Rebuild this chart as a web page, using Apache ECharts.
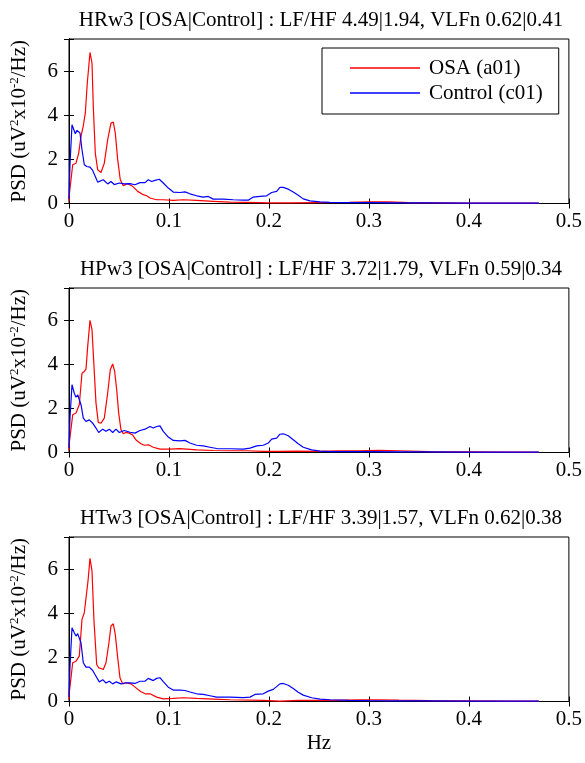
<!DOCTYPE html>
<html><head><meta charset="utf-8">
<script src="https://cdn.jsdelivr.net/npm/echarts@6/dist/echarts.min.js"></script>
<style>html,body{margin:0;padding:0;background:#fff}#c{width:585px;height:763px}</style>
</head><body><div id="c"></div>
<script>
var titles = [
  "HRw3 [OSA|Control] : LF/HF 4.49|1.94, VLFn 0.62|0.41",
  "HPw3 [OSA|Control] : LF/HF 3.72|1.79, VLFn 0.59|0.34",
  "HTw3 [OSA|Control] : LF/HF 3.39|1.57, VLFn 0.62|0.38"
];
var seriesNames = ["OSA (a01)", "Control (c01)"];
var xTicks = [0, 0.1, 0.2, 0.3, 0.4, 0.5];
var yTicks = [0, 2, 4, 6];

var osaF1 = [0,0.0003,0.0037,0.007,0.0097,0.012,0.0143,0.0163,0.0183,0.021,0.023,0.0243,0.0263,0.0287,0.032,0.0353,0.0387,0.042,0.0443,0.0463,0.0487,0.0513,0.0543,0.0587,0.0637,0.0687,0.0743,0.0777,0.081,0.0877,0.0943,0.1043,0.1143,0.1277,0.1443,0.161,0.1777,0.2,0.22,0.25,0.28,0.3,0.32,0.34,0.37,0.4,0.44,0.47];
var osaP1 = [0.1,0.4,1.76,1.83,2.29,3.05,3.53,4.1,5.47,6.86,6.38,4.4,2.29,1.53,1.41,1.83,2.9,3.65,3.7,3.2,1.99,1.08,0.81,0.9,0.78,0.55,0.4,0.35,0.25,0.17,0.17,0.14,0.17,0.14,0.1,0.06,0.05,0.03,0.03,0.04,0.05,0.07,0.07,0.04,0.03,0.02,0.02,0.02];
var ctlF1 = [0,0.001,0.003,0.0043,0.0063,0.008,0.0097,0.011,0.013,0.0153,0.0177,0.021,0.0237,0.0263,0.0287,0.0303,0.0343,0.0387,0.042,0.0453,0.0503,0.0553,0.061,0.066,0.071,0.076,0.0793,0.0827,0.086,0.0903,0.0943,0.0993,0.1043,0.111,0.116,0.121,0.1277,0.1343,0.1393,0.1443,0.1543,0.1643,0.1743,0.1793,0.1843,0.191,0.1977,0.2027,0.2077,0.211,0.2143,0.2193,0.2243,0.2293,0.2343,0.241,0.251,0.261,0.28,0.3,0.33,0.36,0.4,0.44,0.47];
var ctlP1 = [0.2,1.8,3.58,3.42,3.17,3.32,3.38,3.2,2.44,1.76,1.68,1.65,1.5,1.23,0.97,0.89,1.08,0.89,1.0,0.86,0.93,0.89,0.9,0.85,0.95,0.95,1.08,1.0,1.05,1.1,0.93,0.7,0.52,0.5,0.53,0.44,0.35,0.29,0.32,0.2,0.2,0.17,0.15,0.15,0.29,0.32,0.35,0.5,0.55,0.73,0.73,0.65,0.52,0.37,0.21,0.12,0.07,0.05,0.04,0.04,0.03,0.03,0.02,0.02,0.02];

var osaF2 = [0,0.0003,0.0037,0.007,0.0103,0.013,0.0153,0.017,0.0187,0.021,0.023,0.025,0.027,0.0293,0.032,0.0353,0.0387,0.0413,0.0437,0.0457,0.0477,0.0497,0.052,0.0543,0.057,0.0603,0.0637,0.067,0.072,0.0753,0.0793,0.0843,0.091,0.101,0.111,0.1277,0.1443,0.161,0.1777,0.1943,0.211,0.2277,0.2477,0.27,0.29,0.31,0.33,0.36,0.4,0.44,0.47];
var osaP2 = [0.1,0.43,1.71,1.79,2.17,3.6,3.68,3.79,4.82,6.0,5.58,3.91,2.24,1.37,1.33,1.56,2.7,3.76,4.02,3.68,2.85,1.79,1.03,0.85,0.91,0.88,0.79,0.57,0.4,0.33,0.35,0.24,0.15,0.15,0.18,0.12,0.09,0.08,0.08,0.05,0.05,0.06,0.05,0.07,0.08,0.1,0.08,0.04,0.03,0.02,0.02];
var ctlF2 = [0,0.001,0.003,0.0053,0.007,0.0087,0.0103,0.012,0.0143,0.017,0.0203,0.0237,0.027,0.0297,0.0337,0.037,0.0403,0.0437,0.047,0.0503,0.0553,0.061,0.066,0.071,0.076,0.081,0.0843,0.0877,0.091,0.0943,0.0993,0.1043,0.111,0.116,0.121,0.1277,0.1343,0.141,0.1477,0.161,0.1743,0.181,0.1877,0.1943,0.1993,0.2027,0.2077,0.211,0.2143,0.2193,0.2243,0.2293,0.2343,0.2427,0.251,0.261,0.28,0.3,0.33,0.36,0.4,0.44,0.47];
var ctlP2 = [0.2,1.6,3.08,2.69,2.51,2.62,2.58,2.17,1.56,1.41,1.48,1.33,1.11,0.91,1.06,0.96,1.06,0.91,1.06,0.91,1.0,0.92,0.88,1.0,1.06,1.18,1.11,1.18,1.21,0.96,0.7,0.55,0.53,0.55,0.43,0.33,0.3,0.24,0.18,0.17,0.15,0.2,0.3,0.33,0.43,0.61,0.65,0.83,0.85,0.76,0.58,0.4,0.24,0.12,0.06,0.04,0.04,0.04,0.03,0.03,0.02,0.02,0.02];

var osaF3 = [0,0.0003,0.0037,0.007,0.0103,0.013,0.0153,0.017,0.019,0.021,0.023,0.025,0.0277,0.0297,0.032,0.0343,0.037,0.0397,0.042,0.0443,0.0463,0.0487,0.051,0.0537,0.057,0.062,0.067,0.072,0.0763,0.081,0.0877,0.0943,0.1043,0.1143,0.1277,0.1443,0.161,0.1943,0.211,0.23,0.26,0.29,0.31,0.33,0.36,0.4,0.44,0.47];
var osaP3 = [0.1,0.4,1.76,1.83,2.06,3.73,4.03,4.1,5.47,6.5,5.93,3.65,1.68,1.53,1.5,1.45,1.76,2.59,3.43,3.53,3.05,1.99,1.08,0.8,0.85,0.8,0.62,0.44,0.35,0.35,0.2,0.12,0.14,0.17,0.14,0.11,0.08,0.05,0.02,0.05,0.05,0.07,0.08,0.06,0.04,0.03,0.02,0.02];
var ctlF3 = [0,0.001,0.003,0.0053,0.007,0.0087,0.0103,0.012,0.0143,0.017,0.0203,0.0237,0.027,0.0303,0.0337,0.037,0.0403,0.0437,0.047,0.052,0.057,0.061,0.066,0.071,0.076,0.0793,0.0843,0.0877,0.091,0.0943,0.0993,0.1043,0.111,0.116,0.121,0.1277,0.1343,0.141,0.1477,0.161,0.1743,0.181,0.186,0.1943,0.1993,0.2043,0.211,0.2143,0.2193,0.2243,0.2293,0.2343,0.2427,0.251,0.261,0.28,0.3,0.33,0.36,0.4,0.44,0.47];
var ctlP3 = [0.2,1.6,3.35,3.12,2.97,3.08,3.05,2.67,1.76,1.56,1.56,1.41,1.15,0.89,0.99,0.84,0.92,0.8,0.89,0.8,0.85,0.85,0.82,0.92,0.92,1.05,0.95,1.05,1.08,0.9,0.65,0.52,0.52,0.5,0.43,0.35,0.32,0.26,0.2,0.2,0.18,0.2,0.32,0.35,0.47,0.55,0.8,0.82,0.74,0.59,0.42,0.29,0.17,0.11,0.08,0.05,0.04,0.03,0.03,0.02,0.02,0.02];

var panels = [
  {osaF: osaF1, osaP: osaP1, ctlF: ctlF1, ctlP: ctlP1},
  {osaF: osaF2, osaP: osaP2, ctlF: ctlF2, ctlP: ctlP2},
  {osaF: osaF3, osaP: osaP3, ctlF: ctlF3, ctlP: ctlP3}
];

function zip(f, p) {
  var n = Math.min(f.length, p.length), out = [];
  for (var i = 0; i < n; i++) out.push([f[i], p[i]]);
  return out;
}

var FONT = "'Liberation Serif', 'Times New Roman', serif";
var FS = 21;
var gridTops = [39, 288, 537];
var gridH = 164.5;

var option = {
  animation: false,
  backgroundColor: '#fff',
  textStyle: {fontFamily: FONT, color: '#000'},
  title: [], grid: [], xAxis: [], yAxis: [], series: [],
  legend: {
    data: [
      {name: seriesNames[0], icon: 'rect'},
      {name: seriesNames[1], icon: 'rect'}
    ],
    orient: 'vertical',
    left: 322, top: 48,
    padding: [9.5, 16, 10.5, 28],
    itemGap: 4,
    itemWidth: 70, itemHeight: 1.3,
    borderColor: '#000', borderWidth: 1,
    backgroundColor: '#fff',
    textStyle: {fontFamily: FONT, fontSize: FS, color: '#000', padding: [0, 0, 0, 4], lineHeight: 21}
  }
};

var tickStyle = {show: true, inside: true, length: 5, lineStyle: {color: '#000', width: 1}};

for (var k = 0; k < 3; k++) {
  option.title.push({
    text: titles[k], left: 316, top: gridTops[k] - 34, textAlign: 'center',
    textStyle: {fontFamily: FONT, fontSize: FS, fontWeight: 'normal', color: '#000'}
  });
  option.grid.push({left: 69, right: 16, top: gridTops[k], height: gridH,
    show: true, borderColor: '#000', borderWidth: 1, backgroundColor: '#fff'});
  option.xAxis.push({
    type: 'value', gridIndex: k, min: xTicks[0], max: xTicks[xTicks.length - 1], interval: 0.1,
    position: 'bottom',
    axisLine: {show: true, lineStyle: {color: '#000'}},
    axisTick: tickStyle, splitLine: {show: false},
    axisLabel: {fontFamily: FONT, fontSize: FS, color: '#000', margin: 7,
      formatter: function (v) { return String(Math.round(v * 10) / 10); }},
    name: k === 2 ? 'Hz' : '', nameLocation: 'middle', nameGap: 31,
    nameTextStyle: {fontFamily: FONT, fontSize: FS, color: '#000'}
  });
  option.xAxis.push({
    type: 'value', gridIndex: k, min: xTicks[0], max: xTicks[xTicks.length - 1], interval: 0.1,
    position: 'top', axisLine: {show: true, lineStyle: {color: '#000'}},
    axisTick: tickStyle, axisLabel: {show: false}, splitLine: {show: false}
  });
  option.yAxis.push({
    type: 'value', gridIndex: k, min: 0, max: 7.47, interval: 2, position: 'left',
    axisLine: {show: true, lineStyle: {color: '#000'}},
    axisTick: tickStyle, splitLine: {show: false},
    axisLabel: {fontFamily: FONT, fontSize: FS, color: '#000', margin: 11,
      formatter: function (v) { return yTicks.indexOf(v) >= 0 ? String(v) : ''; }},
    name: 'PSD (uV{sup|2}x10{sup|-2}/Hz)', nameLocation: 'middle', nameGap: 39, nameRotate: 90,
    nameTextStyle: {fontFamily: FONT, fontSize: FS, color: '#000',
      rich: {sup: {fontFamily: FONT, fontSize: 13, color: '#000', verticalAlign: 'top', padding: [0, 0, 9, 0]}}}
  });
  option.yAxis.push({
    type: 'value', gridIndex: k, min: 0, max: 7.47, interval: 2, position: 'right',
    axisLine: {show: true, lineStyle: {color: '#000'}},
    axisTick: tickStyle, axisLabel: {show: false}, splitLine: {show: false}
  });
  var p = panels[k];
  option.series.push({
    name: seriesNames[0], type: 'line', xAxisIndex: 2 * k, yAxisIndex: 2 * k,
    data: zip(p.osaF, p.osaP), symbol: 'none', color: '#ff0000',
    lineStyle: {color: '#ff0000', width: 1.2}, z: 3
  });
  option.series.push({
    name: seriesNames[1], type: 'line', xAxisIndex: 2 * k, yAxisIndex: 2 * k,
    data: zip(p.ctlF, p.ctlP), symbol: 'none', color: '#0000ff',
    lineStyle: {color: '#0000ff', width: 1.2}, z: 4
  });
}

var chart = echarts.init(document.getElementById('c'), null, {renderer: 'canvas'});
chart.setOption(option);
</script>
</body></html>
